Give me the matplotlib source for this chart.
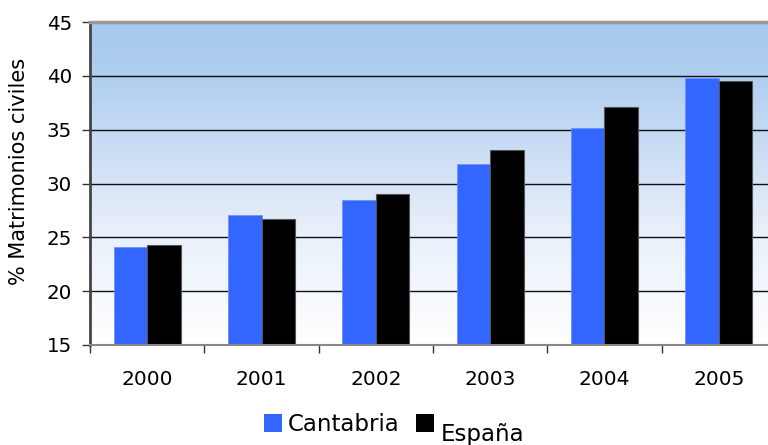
import matplotlib
matplotlib.use("Agg")
import matplotlib.pyplot as plt
import numpy as np
from matplotlib.colors import LinearSegmentedColormap
from matplotlib.patches import Rectangle

years = ["2000", "2001", "2002", "2003", "2004", "2005"]
cantabria = [24.1, 27.1, 28.45, 31.85, 35.2, 39.8]
espana = [24.25, 26.7, 29.0, 33.15, 37.1, 39.5]
yticks = [15, 20, 25, 30, 35, 40, 45]

W, H = 768, 445
fig = plt.figure(figsize=(W / 100, H / 100), dpi=100)
ax = fig.add_axes([90 / W, (H - 345) / H, 686 / W, (345 - 22) / H])

ax.set_xlim(-0.5, len(years) - 0.5)
ax.set_ylim(15, 45)

# gradient background
cmap = LinearSegmentedColormap.from_list(
    "bg", [(0.0, (1, 1, 1)), (0.35, (0.91, 0.94, 0.98)), (0.6, (0.80, 0.87, 0.96)),
           (0.83, (0.69, 0.81, 0.94)), (1.0, (0.65, 0.79, 0.93))])
grad = np.linspace(0, 1, 256).reshape(-1, 1)
ax.imshow(grad, cmap=cmap, origin="lower", aspect="auto",
          extent=[-0.5, len(years) - 0.5, 15, 45], zorder=0)

for y in yticks[1:-1]:
    ax.axhline(y, color="#111111", lw=1.0, zorder=1)

x = np.arange(len(years))
w = 0.293
ax.bar(x - w / 2, cantabria, width=w, color="#3366FF", edgecolor="#6f8fff",
       linewidth=0.6, zorder=2)
ax.bar(x + w / 2, espana, width=w, color="#000000", edgecolor="#555555",
       linewidth=0.8, zorder=2)

ax.set_yticks(yticks)
ax.set_yticklabels([str(v) for v in yticks], fontsize=14.3)
ax.set_xticks(x)
ax.set_xticklabels(years, fontsize=14.5)
ax.tick_params(axis="x", which="major", length=0, pad=18)
ax.set_xticks(np.arange(len(years) + 1) - 0.5, minor=True)
ax.tick_params(axis="x", which="minor", length=6, width=1, color="#333333")
ax.tick_params(axis="y", length=6, width=1, color="#333333", pad=7)

ax.spines["left"].set_color("#444444")
ax.spines["left"].set_linewidth(2)
ax.spines["bottom"].set_color("#888888")
ax.spines["bottom"].set_linewidth(1.5)
ax.spines["top"].set_color("#999999")
ax.spines["top"].set_linewidth(2.5)
ax.spines["right"].set_visible(False)

fig.text(19 / W, (H - 171) / H, "% Matrimonios civiles", fontsize=15,
         rotation=90, ha="center", va="center")

# legend drawn manually
fig.patches.append(Rectangle((264 / W, (H - 432) / H), 18 / W, 18 / H,
                             transform=fig.transFigure, facecolor="#3366FF",
                             edgecolor="none"))
fig.text(288 / W, (H - 431) / H, "Cantabria", fontsize=16.5, va="baseline", ha="left")
fig.patches.append(Rectangle((416 / W, (H - 432) / H), 18 / W, 18 / H,
                             transform=fig.transFigure, facecolor="#000000",
                             edgecolor="none"))
fig.text(441 / W, (H - 441) / H, "España", fontsize=16.5, va="baseline", ha="left")

fig.savefig("out.png", dpi=100)
